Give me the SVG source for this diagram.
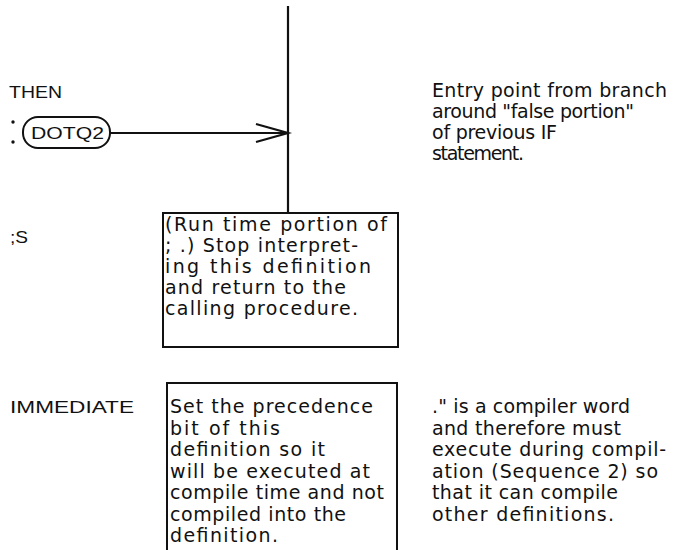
<svg xmlns="http://www.w3.org/2000/svg" width="683" height="550" viewBox="0 0 683 550">
<style>
.lbl{font-family:"Liberation Sans",Arial,sans-serif;font-size:17px;fill:#111}
.txt{font-family:"DejaVu Sans","Liberation Sans",sans-serif;font-size:19px;fill:#111}
.box{fill:none;stroke:#111;stroke-width:2}
.ln{fill:none;stroke:#111;stroke-width:2.2}
</style>
<rect width="683" height="550" fill="#fff"/>
<g id="connectors">
<line class="ln" x1="288" y1="6" x2="288" y2="213" stroke-width="2.5"/>
<line class="ln" x1="110" y1="133" x2="288" y2="133"/>
<polyline class="ln" points="256,124 288,133 256,142" stroke-width="2.5"/>
</g>
<g id="then">
<text class="lbl" x="9" y="98" textLength="53" lengthAdjust="spacingAndGlyphs">THEN</text>
<circle cx="13" cy="122" r="1.7" fill="#111"/>
<circle cx="13" cy="142" r="1.7" fill="#111"/>
</g>
<g id="dotq2">
<rect class="box" x="23" y="117" width="87" height="31" rx="15"/>
<text class="lbl" x="31" y="139" textLength="73" lengthAdjust="spacingAndGlyphs">DOTQ2</text>
</g>
<g id="entry-note">
<text class="txt" x="432" y="97" textLength="235" lengthAdjust="spacing">Entry point from branch</text>
<text class="txt" x="432" y="118" textLength="202" lengthAdjust="spacing">around "false portion"</text>
<text class="txt" x="432" y="139" textLength="125" lengthAdjust="spacing">of previous IF</text>
<text class="txt" x="432" y="160" textLength="92" lengthAdjust="spacing">statement.</text>
</g>
<g id="semis">
<text class="lbl" x="10" y="243" textLength="18" lengthAdjust="spacingAndGlyphs">;S</text>
</g>
<g id="runtime-box">
<rect class="box" x="163" y="213" width="235" height="134"/>
<text class="txt" x="165" y="231" textLength="222" lengthAdjust="spacing">(Run time portion of</text>
<text class="txt" x="165" y="252" textLength="193" lengthAdjust="spacing">; .) Stop interpret-</text>
<text class="txt" x="165" y="273" textLength="206" lengthAdjust="spacing">ing this definition</text>
<text class="txt" x="165" y="294" textLength="181" lengthAdjust="spacing">and return to the</text>
<text class="txt" x="165" y="315" textLength="193" lengthAdjust="spacing">calling procedure.</text>
</g>
<g id="immediate">
<text class="lbl" x="10" y="413" textLength="124" lengthAdjust="spacingAndGlyphs">IMMEDIATE</text>
</g>
<g id="immediate-box">
<polyline class="box" points="167,550 167,383 397,383 397,550"/>
<text class="txt" x="170" y="413" textLength="203" lengthAdjust="spacing">Set the precedence</text>
<text class="txt" x="170" y="434.5" textLength="110" lengthAdjust="spacing">bit of this</text>
<text class="txt" x="170" y="456" textLength="155" lengthAdjust="spacing">definition so it</text>
<text class="txt" x="170" y="477.5" textLength="200" lengthAdjust="spacing">will be executed at</text>
<text class="txt" x="170" y="499" textLength="214" lengthAdjust="spacing">compile time and not</text>
<text class="txt" x="170" y="520.5" textLength="176" lengthAdjust="spacing">compiled into the</text>
<text class="txt" x="170" y="542" textLength="108" lengthAdjust="spacing">definition.</text>
</g>
<g id="compiler-note">
<text class="txt" x="432" y="413" textLength="198" lengthAdjust="spacing">." is a compiler word</text>
<text class="txt" x="432" y="434.5" textLength="189" lengthAdjust="spacing">and therefore must</text>
<text class="txt" x="432" y="456" textLength="234" lengthAdjust="spacing">execute during compil-</text>
<text class="txt" x="432" y="477.5" textLength="226" lengthAdjust="spacing">ation (Sequence 2) so</text>
<text class="txt" x="432" y="499" textLength="186" lengthAdjust="spacing">that it can compile</text>
<text class="txt" x="432" y="520.5" textLength="182" lengthAdjust="spacing">other definitions.</text>
</g>
</svg>
